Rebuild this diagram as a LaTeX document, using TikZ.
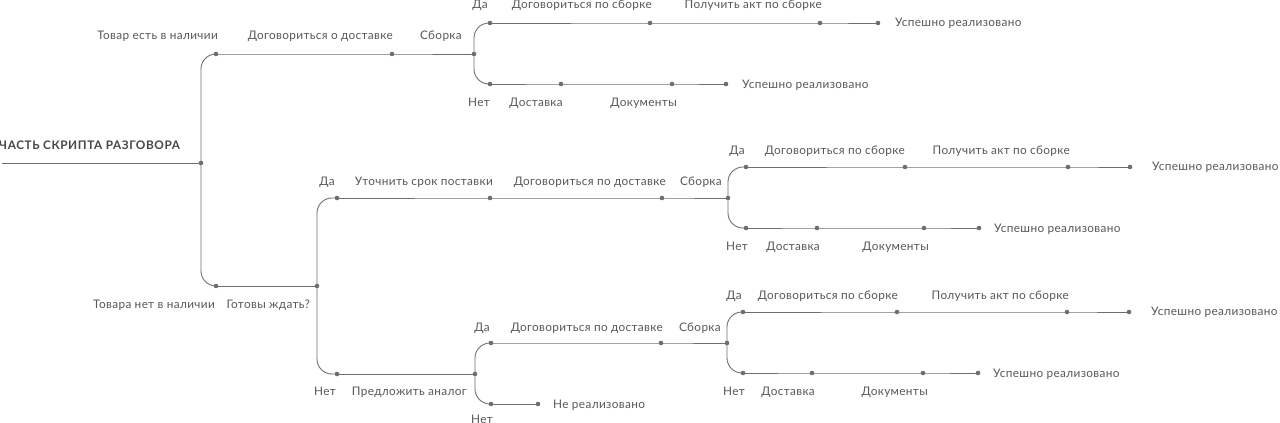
\documentclass[tikz,border=0pt]{standalone}
\usepackage{fontspec}
\setmainfont{Lato}[LetterSpace=3]
\definecolor{ln}{HTML}{6E6E6E}
\definecolor{tx}{HTML}{575757}
\tikzset{
  dot/.style={circle,fill=ln,inner sep=0pt,minimum size=4.6pt},
  conn/.style={draw=ln,line width=0.9pt},
  br/.style={conn,rounded corners=15pt},
  lblL/.style={anchor=base east,inner sep=0pt,text=tx,font=\fontsize{11.8}{13}\selectfont},
  lblR/.style={anchor=base west,inner sep=0pt,text=tx,font=\fontsize{11.8}{13}\selectfont},
  ttl/.style={anchor=base west,inner sep=0pt,text=tx!80!black,font=\bfseries\fontsize{11.8}{13}\selectfont\addfontfeatures{LetterSpace=5}}
}
\begin{document}
\begin{tikzpicture}[x=1pt,y=-1pt]
\useasboundingbox (0,0) rectangle (1280,423);
% dots
\coordinate (s) at (2,163);
\node[dot] (r) at (201,163) {};
\node[dot] (a1) at (216,54) {};
\node[dot] (a2) at (392,54) {};
\node[dot] (a3) at (474,54) {};
\node[dot] (a4) at (490,23) {};
\node[dot] (a5) at (650,23) {};
\node[dot] (a6) at (820,23) {};
\node[dot] (a7) at (878,23) {};
\node[dot] (a8) at (490,84) {};
\node[dot] (a9) at (561,84) {};
\node[dot] (a10) at (672,84) {};
\node[dot] (a11) at (726,84) {};
\node[dot] (b1) at (216,286) {};
\node[dot] (b2) at (317,286) {};
\node[dot] (c1) at (337,198) {};
\node[dot] (c2) at (490,198) {};
\node[dot] (c3) at (662,198) {};
\node[dot] (c4) at (728,198) {};
\node[dot] (c5) at (746,167) {};
\node[dot] (c6) at (905,167) {};
\node[dot] (c7) at (1068,167) {};
\node[dot] (c8) at (1130,167) {};
\node[dot] (c9) at (746,228) {};
\node[dot] (c10) at (817,228) {};
\node[dot] (c11) at (924,228) {};
\node[dot] (c12) at (979,228) {};
\node[dot] (d1) at (337,374) {};
\node[dot] (d2) at (475,374) {};
\node[dot] (d3) at (491,343) {};
\node[dot] (d4) at (661,343) {};
\node[dot] (d5) at (727,343) {};
\node[dot] (d6) at (743,312) {};
\node[dot] (d7) at (897,312) {};
\node[dot] (d8) at (1067,312) {};
\node[dot] (d9) at (1129,312) {};
\node[dot] (d10) at (743,373) {};
\node[dot] (d11) at (812,373) {};
\node[dot] (d12) at (923,373) {};
\node[dot] (d13) at (978,373) {};
\node[dot] (d14) at (491,404) {};
\node[dot] (d15) at (538,404) {};
% connectors
\draw[conn] (s) -- (r.center);
\draw[br] (r.center) |- (a1.center);
\draw[br] (r.center) |- (b1.center);
\draw[conn] (a1.center) -- (a2.center) -- (a3.center);
\draw[br] (a3.center) |- (a4.center);
\draw[br] (a3.center) |- (a8.center);
\draw[conn] (a4.center) -- (a5.center) -- (a6.center) -- (a7.center);
\draw[conn] (a8.center) -- (a9.center) -- (a10.center) -- (a11.center);
\draw[conn] (b1.center) -- (b2.center);
\draw[br] (b2.center) |- (c1.center);
\draw[br] (b2.center) |- (d1.center);
\draw[conn] (c1.center) -- (c2.center) -- (c3.center) -- (c4.center);
\draw[br] (c4.center) |- (c5.center);
\draw[br] (c4.center) |- (c9.center);
\draw[conn] (c5.center) -- (c6.center) -- (c7.center) -- (c8.center);
\draw[conn] (c9.center) -- (c10.center) -- (c11.center) -- (c12.center);
\draw[conn] (d1.center) -- (d2.center);
\draw[br] (d2.center) |- (d3.center);
\draw[br] (d2.center) |- (d14.center);
\draw[conn] (d3.center) -- (d4.center) -- (d5.center);
\draw[br] (d5.center) |- (d6.center);
\draw[br] (d5.center) |- (d10.center);
\draw[conn] (d6.center) -- (d7.center) -- (d8.center) -- (d9.center);
\draw[conn] (d10.center) -- (d11.center) -- (d12.center) -- (d13.center);
\draw[conn] (d14.center) -- (d15.center);
% labels
\node[ttl] (t0) at (-1,149) {ЧАСТЬ СКРИПТА РАЗГОВОРА};
\node[lblL] (l1) at (218,39) {Товар есть в наличии};
\node[lblL] (l2) at (393,39) {Договориться о доставке};
\node[lblL] (l3) at (462,39) {Сборка};
\node[lblL] (l4) at (488,9) {Да};
\node[lblL] (l5) at (652,9) {Договориться по сборке};
\node[lblL] (l6) at (822,9) {Получить акт по сборке};
\node[lblR] (l7) at (895,26) {Успешно реализовано};
\node[lblL] (l8) at (490,106) {Нет};
\node[lblL] (l9) at (563,106) {Доставка};
\node[lblL] (l10) at (677,106) {Документы};
\node[lblR] (l11) at (742,88) {Успешно реализовано};
\node[lblL] (m1) at (215,308) {Товара нет в наличии};
\node[lblL] (m2) at (310,308) {Готовы ждать?};
\node[lblL] (m3) at (335,185) {Да};
\node[lblL] (m4) at (493,185) {Уточнить срок поставки};
\node[lblL] (m5) at (666,185) {Договориться по доставке};
\node[lblL] (m6) at (722,185) {Сборка};
\node[lblL] (m7) at (745,154) {Да};
\node[lblL] (m8) at (905,154) {Договориться по сборке};
\node[lblL] (m9) at (1070,154) {Получить акт по сборке};
\node[lblR] (m10) at (1152,170) {Успешно реализовано};
\node[lblL] (m11) at (748,250) {Нет};
\node[lblL] (m12) at (820,250) {Доставка};
\node[lblL] (m13) at (929,250) {Документы};
\node[lblR] (m14) at (994,232) {Успешно реализовано};
\node[lblL] (n1) at (336,395) {Нет};
\node[lblL] (n2) at (467,395) {Предложить аналог};
\node[lblL] (n3) at (490,331) {Да};
\node[lblL] (n4) at (663,331) {Договориться по доставке};
\node[lblL] (n5) at (721,331) {Сборка};
\node[lblL] (n6) at (742,299) {Да};
\node[lblL] (n7) at (898,299) {Договориться по сборке};
\node[lblL] (n8) at (1069,299) {Получить акт по сборке};
\node[lblR] (n9) at (1151,315) {Успешно реализовано};
\node[lblL] (n10) at (745,395) {Нет};
\node[lblL] (n11) at (815,395) {Доставка};
\node[lblL] (n12) at (928,395) {Документы};
\node[lblR] (n13) at (993,377) {Успешно реализовано};
\node[lblL] (n14) at (493,423) {Нет};
\node[lblR] (n15) at (553,408) {Не реализовано};
\end{tikzpicture}
\end{document}
